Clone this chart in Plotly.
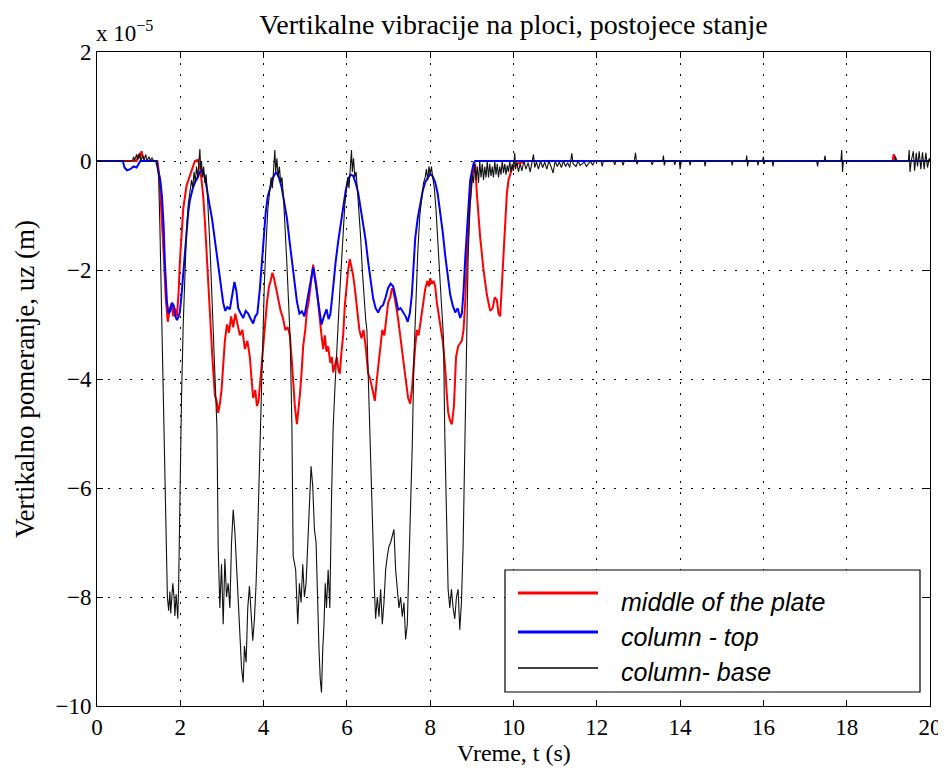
import plotly.graph_objects as go

# vertical displacement in units of 1e-5 m, time in s

t_red = [0, 0.95, 1.0, 1.03, 1.07, 1.1, 1.15, 1.45, 1.5, 1.55,
         1.6, 1.65, 1.7, 1.75, 1.79, 1.83, 1.87, 1.92, 1.96, 1.99,
         2.03, 2.07, 2.15, 2.22, 2.27, 2.35, 2.42, 2.47, 2.51, 2.55,
         2.59, 2.63, 2.67, 2.71, 2.77, 2.83, 2.87, 2.91, 2.95, 2.99,
         3.03, 3.07, 3.12, 3.17, 3.22, 3.27, 3.32, 3.37, 3.43, 3.49,
         3.55, 3.61, 3.67, 3.71, 3.75, 3.8, 3.84, 3.88, 3.91, 3.95,
         3.99, 4.03, 4.08, 4.13, 4.17, 4.21, 4.25, 4.3, 4.35, 4.41,
         4.47, 4.52, 4.58, 4.63, 4.68, 4.72, 4.75, 4.8, 4.84, 4.87,
         4.91, 4.95, 5.0, 5.04, 5.08, 5.12, 5.16, 5.19, 5.23, 5.27,
         5.31, 5.35, 5.39, 5.43, 5.47, 5.51, 5.55, 5.6, 5.64, 5.67,
         5.72, 5.76, 5.8, 5.83, 5.87, 5.91, 5.95, 5.99, 6.03, 6.07,
         6.11, 6.15, 6.2, 6.25, 6.3, 6.35, 6.4, 6.45, 6.51, 6.56,
         6.6, 6.64, 6.67, 6.72, 6.76, 6.8, 6.85, 6.9, 6.95, 6.99,
         7.04, 7.08, 7.11, 7.15, 7.19, 7.23, 7.29, 7.35, 7.41, 7.47,
         7.52, 7.56, 7.6, 7.64, 7.68, 7.72, 7.76, 7.8, 7.84, 7.88,
         7.93, 7.97, 8.0, 8.04, 8.08, 8.12, 8.16, 8.2, 8.25, 8.3,
         8.36, 8.4, 8.43, 8.47, 8.52, 8.57, 8.62, 8.67, 8.72, 8.76,
         8.8, 8.84, 8.88, 8.91, 8.95, 9.0, 9.04, 9.08, 9.12, 9.2,
         9.28, 9.36, 9.44, 9.5, 9.55, 9.6, 9.64, 9.68, 9.72, 9.76,
         9.8, 9.84, 9.88, 9.92, 9.96, 10.0, 10.1, 10.3, 19.1, 19.13,
         19.16, 19.2, 20]
uz_red = [0, 0, 0.12, 0.05, 0.18, 0.08, 0, 0, -0.3, -0.9,
          -1.7, -2.5, -2.95, -2.7, -2.62, -2.85, -2.7, -2.85, -2.4, -1.85,
          -1.3, -0.88, -0.45, -0.3, -0.2, 0, 0.02, -0.1, -0.35, -0.65,
          -1.1, -1.7, -2.3, -2.8, -3.6, -4.3, -4.4, -4.62, -4.45, -4.2,
          -3.7, -3.3, -3.0, -3.15, -2.85, -3.05, -2.8, -3.0, -3.2, -3.1,
          -3.45, -3.3, -3.6, -4.0, -4.35, -4.2, -4.5, -4.4, -4.1, -3.8,
          -3.4, -3.05, -2.6, -2.3, -2.2, -2.05, -2.15, -2.35, -2.5, -2.75,
          -2.9, -3.1, -3.05, -3.2, -3.7, -4.2, -4.5, -4.83, -4.55, -4.3,
          -3.9, -3.4, -3.1, -2.75, -2.6, -2.3, -2.0, -1.9, -2.1, -2.3,
          -2.6, -2.95, -3.2, -3.45, -3.2, -3.5, -3.4, -3.7, -3.6, -3.88,
          -3.7, -3.6, -3.85, -3.9, -3.5, -3.2, -2.65, -2.3, -2.0, -1.8,
          -1.95, -2.1, -2.4, -2.8, -3.1, -3.25, -3.1, -3.4, -3.9, -4.0,
          -4.15, -4.25, -4.4, -4.0, -3.7, -3.4, -3.1, -3.2, -2.9, -2.6,
          -2.5, -2.35, -2.35, -2.5, -2.7, -2.9, -3.3, -3.7, -4.0, -4.35,
          -4.45, -4.2, -3.7, -3.4, -3.1, -3.2, -3.0, -2.8, -2.6, -2.35,
          -2.2, -2.3, -2.15, -2.25, -2.2, -2.3, -2.6, -2.85, -3.05, -3.3,
          -3.8, -4.3, -4.6, -4.75, -4.83, -4.5, -3.6, -3.4, -3.35, -3.3,
          -3.1, -2.6, -1.8, -1.25, -0.8, -0.35, -0.1, -0.05, -0.6, -1.4,
          -2.0, -2.45, -2.75, -2.7, -2.5, -2.55, -2.8, -2.85, -2.3, -1.6,
          -1.0, -0.6, -0.35, -0.25, -0.15, -0.1, -0.05, 0, 0, 0.12,
          0.05, 0, 0]

t_blue = [0, 0.62, 0.66, 0.72, 0.8, 0.88, 0.95, 1.0, 1.04, 1.42,
          1.47, 1.52, 1.56, 1.6, 1.63, 1.68, 1.72, 1.76, 1.8, 1.84,
          1.88, 1.92, 1.96, 1.99, 2.03, 2.07, 2.11, 2.15, 2.19, 2.23,
          2.3, 2.36, 2.42, 2.47, 2.52, 2.57, 2.63, 2.7, 2.76, 2.83,
          2.9, 2.97, 3.03, 3.08, 3.13, 3.19, 3.24, 3.3, 3.35, 3.39,
          3.45, 3.51, 3.57, 3.63, 3.69, 3.75, 3.8, 3.85, 3.91, 3.95,
          3.99, 4.05, 4.1, 4.17, 4.23, 4.3, 4.36, 4.43, 4.5, 4.56,
          4.62, 4.68, 4.74, 4.8, 4.86, 4.92, 4.98, 5.04, 5.1, 5.15,
          5.19, 5.24, 5.31, 5.35, 5.39, 5.45, 5.51, 5.56, 5.6, 5.64,
          5.67, 5.73, 5.79, 5.85, 5.91, 5.97, 6.03, 6.09, 6.15, 6.21,
          6.27, 6.33, 6.39, 6.45, 6.51, 6.57, 6.63, 6.69, 6.75, 6.81,
          6.87, 6.93, 6.99, 7.05, 7.11, 7.17, 7.23, 7.29, 7.35, 7.41,
          7.46, 7.51, 7.56, 7.6, 7.64, 7.7, 7.76, 7.82, 7.88, 7.94,
          8.0, 8.06, 8.12, 8.18, 8.24, 8.3, 8.36, 8.42, 8.48, 8.54,
          8.6, 8.66, 8.72, 8.76, 8.8, 8.84, 8.88, 8.92, 8.96, 9.0,
          9.04, 9.08, 20]
uz_blue = [0, 0, -0.12, -0.17, -0.15, -0.1, -0.12, -0.05, 0, 0,
           -0.15, -0.35, -0.65, -1.2, -1.87, -2.6, -2.8, -2.75, -2.6, -2.65,
           -2.85, -2.92, -2.85, -2.77, -2.45, -2.06, -1.65, -1.27, -0.95, -0.72,
           -0.5, -0.38, -0.3, -0.2, -0.17, -0.25, -0.47, -0.8, -1.05, -1.45,
           -1.87, -2.25, -2.6, -2.75, -2.68, -2.72, -2.5, -2.22, -2.4, -2.7,
           -2.8, -2.88, -2.75, -2.8, -2.9, -2.98, -2.85, -2.8, -2.35, -1.9,
           -1.45, -0.95, -0.65, -0.45, -0.3, -0.2, -0.28, -0.47, -0.75, -1.05,
           -1.45, -1.85, -2.25, -2.58, -2.8, -2.76, -2.85, -2.58, -2.35, -2.1,
           -1.95, -2.2, -2.6, -2.85, -3.0, -2.85, -2.72, -2.9, -2.82, -2.55,
           -2.27, -1.85, -1.48, -1.15, -0.82, -0.55, -0.33, -0.25, -0.27, -0.4,
           -0.58, -0.85, -1.12, -1.45, -1.85, -2.2, -2.52, -2.7, -2.78, -2.68,
           -2.64, -2.5, -2.33, -2.25, -2.3, -2.5, -2.73, -2.7, -2.78, -2.85,
           -2.95, -2.8, -2.45, -1.95, -1.42, -1.05, -0.76, -0.55, -0.39, -0.3,
           -0.24, -0.28, -0.39, -0.6, -0.94, -1.3, -1.73, -2.1, -2.45, -2.65,
           -2.78, -2.7, -2.88, -2.8, -2.4, -1.8, -1.24, -0.7, -0.35, -0.2,
           -0.05, 0, 0]

t_black = [0, 0.85, 0.88, 0.9, 0.95, 0.98, 1.02, 1.05, 1.1, 1.13,
           1.17, 1.2, 1.25, 1.28, 1.32, 1.36, 1.44, 1.48, 1.51, 1.54,
           1.57, 1.6, 1.63, 1.66, 1.69, 1.72, 1.75, 1.77, 1.8, 1.82,
           1.85, 1.87, 1.9, 1.92, 1.94, 1.96, 1.99, 2.03, 2.07, 2.11,
           2.15, 2.19, 2.23, 2.27, 2.3, 2.33, 2.36, 2.39, 2.42, 2.45,
           2.47, 2.49, 2.51, 2.53, 2.56, 2.59, 2.62, 2.65, 2.68, 2.72,
           2.76, 2.8, 2.84, 2.88, 2.91, 2.95, 2.99, 3.03, 3.07, 3.11,
           3.15, 3.19, 3.23, 3.27, 3.31, 3.35, 3.39, 3.43, 3.47, 3.51,
           3.54, 3.58, 3.62, 3.66, 3.7, 3.74, 3.78, 3.82, 3.86, 3.9,
           3.94, 3.98, 4.02, 4.06, 4.1, 4.14, 4.18, 4.21, 4.24, 4.27,
           4.29, 4.32, 4.35, 4.38, 4.41, 4.44, 4.48, 4.52, 4.56, 4.6,
           4.64, 4.68, 4.71, 4.77, 4.82, 4.86, 4.9, 4.94, 4.98, 5.02,
           5.06, 5.1, 5.14, 5.18, 5.22, 5.26, 5.3, 5.33, 5.36, 5.39,
           5.42, 5.45, 5.48, 5.51, 5.55, 5.59, 5.63, 5.67, 5.71, 5.75,
           5.79, 5.83, 5.87, 5.91, 5.95, 5.99, 6.02, 6.05, 6.08, 6.11,
           6.13, 6.16, 6.19, 6.22, 6.25, 6.29, 6.33, 6.37, 6.41, 6.45,
           6.48, 6.52, 6.56, 6.62, 6.66, 6.69, 6.73, 6.77, 6.81, 6.85,
           6.89, 6.93, 6.97, 7.01, 7.05, 7.09, 7.13, 7.17, 7.21, 7.25,
           7.29, 7.33, 7.37, 7.41, 7.45, 7.49, 7.53, 7.57, 7.61, 7.65,
           7.7, 7.75, 7.8, 7.84, 7.88, 7.91, 7.94, 7.97, 8.0, 8.03,
           8.06, 8.1, 8.14, 8.18, 8.22, 8.26, 8.3, 8.32, 8.35, 8.38,
           8.43, 8.47, 8.51, 8.55, 8.59, 8.63, 8.67, 8.71, 8.75, 8.79,
           8.83, 8.87, 8.91, 8.95, 8.98, 9.01, 9.04, 9.07, 9.1, 9.13,
           9.16, 9.19, 9.22, 9.25, 9.28, 9.31, 9.34, 9.37, 9.4, 9.43,
           9.46, 9.49, 9.52, 9.55, 9.58, 9.61, 9.64, 9.67, 9.7, 9.73,
           9.76, 9.79, 9.82, 9.85, 9.88, 9.91, 9.94, 9.97, 10.0, 10.03,
           10.05, 10.08, 10.12, 10.16, 10.2, 10.25, 10.3, 10.35, 10.4, 10.45,
           10.48, 10.51, 10.55, 10.6, 10.65, 10.7, 10.75, 10.8, 10.85, 10.9,
           10.95, 11.0, 11.05, 11.1, 11.15, 11.2, 11.25, 11.3, 11.35, 11.4,
           11.43, 11.5, 11.55, 11.6, 11.7, 11.75,
           11.85, 11.9, 11.95, 12.1, 12.13, 12.16, 12.4, 12.43, 12.46, 12.6,
           12.63, 12.66, 12.9, 12.93, 12.96, 13.0, 13.3, 13.33, 13.36, 13.58,
           13.6, 13.62, 13.65, 13.85, 13.87, 13.9, 13.98, 14.0, 14.03, 14.22,
           14.24, 14.26, 14.58, 14.6, 14.62, 15.23, 15.25, 15.27, 15.58, 15.6,
           15.62, 15.64, 15.85, 15.87, 15.89, 15.98, 16.0, 16.02, 16.04, 16.21,
           16.23, 16.25, 17.28, 17.3, 17.32, 17.46, 17.48, 17.5, 17.86, 17.88,
           17.9, 17.92, 19.15, 19.17, 19.19, 19.48, 19.5, 19.52, 19.55, 19.6,
           19.63, 19.67, 19.7, 19.74, 19.78, 19.82, 19.86, 19.9, 19.94, 19.98,
           20]
uz_black = [0, 0, 0.08, 0, 0.12, 0.02, 0.15, 0, 0.1, 0.02,
            0.12, 0, 0.08, 0, 0.06, 0, 0, -0.3, -1.2, -2.3,
            -3.5, -4.8, -6.2, -7.3, -8.0, -8.25, -7.9, -8.3, -7.85, -7.75,
            -8.0, -8.35, -7.95, -8.15, -8.4, -7.8, -6.2, -4.3, -3.0, -1.9,
            -1.25, -0.8, -0.6, -0.35, -0.5, -0.2, -0.4, -0.1, -0.3, 0.05,
            0.22, -0.15, 0.0, -0.3, -0.1, -0.4, -0.25, -0.6, -1.0, -1.7,
            -2.5, -3.3, -4.1, -4.9, -7.1, -8.2, -7.4, -8.5, -7.3, -8.0,
            -7.75, -8.2, -7.0, -6.4, -6.8, -7.4, -7.9, -8.5, -9.3, -9.57,
            -8.9, -9.2, -8.2, -7.8, -8.3, -8.8, -8.4, -7.75, -6.76, -5.55,
            -4.33, -3.1, -2.2, -1.5, -0.9, -0.6, -0.3, -0.5, -0.1, 0.2,
            -0.2, 0.05, -0.3, -0.1, -0.4, -0.3, -0.7, -1.2, -1.9, -2.6,
            -3.3, -4.9, -7.25, -7.5, -8.5, -7.75, -8.1, -7.4, -8.0, -7.75,
            -7.0, -6.5, -5.6, -5.97, -6.76, -7.0, -8.5, -8.96, -9.5, -9.75,
            -8.96, -8.5, -7.75, -8.2, -7.5, -8.2, -6.2, -4.9, -4.2, -3.7,
            -3.0, -2.4, -1.8, -1.2, -0.8, -0.5, -0.3, -0.5, -0.1, 0.2,
            -0.2, 0.05, -0.3, -0.2, -0.5, -0.9, -1.4, -2.0, -2.5, -2.9,
            -3.1, -4.3, -5.4, -6.76, -7.86, -8.4, -8.0, -8.36, -7.86, -8.5,
            -8.1, -7.5, -7.25, -7.07, -7.0, -6.88, -6.76, -7.5, -7.86, -8.2,
            -8.0, -8.36, -8.1, -8.78, -8.5, -7.4, -6.45, -5.2, -3.6, -2.6,
            -1.7, -1.0, -0.6, -0.4, -0.3, -0.15, -0.35, -0.1, -0.25, -0.1,
            -0.3, -0.5, -0.9, -1.5, -2.0, -2.5, -3.0, -3.3, -5.0, -6.2,
            -7.86, -8.2, -7.86, -8.2, -8.4, -8.0, -7.86, -8.6, -8.1, -7.07,
            -5.2, -3.1, -1.8, -0.9, -0.5, -0.25, -0.4, -0.05, -0.35, -0.1,
            -0.4, 0, -0.3, -0.05, -0.35, -0.1, -0.3, 0, -0.3, -0.05,
            -0.28, -0.1, -0.3, 0, -0.25, -0.05, -0.3, -0.1, -0.25, 0,
            -0.22, -0.05, -0.25, -0.08, -0.2, 0, -0.2, -0.05, -0.18, 0.15,
            -0.15, -0.02, -0.2, -0.05, -0.18, 0, -0.15, -0.03, -0.2, 0,
            0.12, -0.12, -0.02, -0.15, 0, -0.12, -0.02, -0.15, 0, -0.1,
            -0.22, 0, -0.1, -0.02, -0.12, 0, -0.1, -0.03, -0.12, 0.14,
            -0.05, -0.1, 0, -0.08, -0.02, -0.1,
            0, -0.08, 0, 0, -0.1, 0, 0, -0.07, 0, 0,
            -0.08, 0, 0, 0.15, -0.06, 0, 0, -0.07, 0, 0,
            0.1, -0.08, 0, 0, -0.07, 0, 0, -0.15, 0, 0,
            -0.08, 0, 0, -0.1, 0, 0, -0.08, 0, 0, 0.1,
            -0.1, 0, 0, -0.08, 0, 0, 0.08, -0.05, 0, 0,
            -0.1, 0, 0, -0.1, 0, 0, 0.1, 0, 0, 0.2,
            -0.2, 0, 0, 0.08, 0, 0, 0.2, -0.2, 0, 0.18,
            -0.18, 0.15, -0.1, 0.18, -0.15, 0.16, -0.15, 0.15, -0.12, 0.05,
            0]

legend_names = ['middle of the plate', 'column - top', 'column- base']

assert len(t_red) == len(uz_red)
assert len(t_blue) == len(uz_blue)
assert len(t_black) == len(uz_black)

# the page puts the figure 8px in from the top-left corner
OFF = 8
W, H = 946 - OFF, 773 - OFF
L, R, T, B = 97 - OFF, 16, 52 - OFF, 67
pw, ph = W - L - R, H - T - B


def px_x(px):
    # reference screen pixel -> paper x
    return (px - OFF - L) / pw


def px_y(py):
    # reference screen pixel -> paper y
    return (H - B - (py - OFF)) / ph


fig = go.Figure()
fig.add_trace(go.Scatter(x=t_red, y=uz_red, mode='lines', name=legend_names[0],
                         line=dict(color='#ff0000', width=2)))
fig.add_trace(go.Scatter(x=t_blue, y=uz_blue, mode='lines', name=legend_names[1],
                         line=dict(color='#0000ff', width=2)))
fig.add_trace(go.Scatter(x=t_black, y=uz_black, mode='lines', name=legend_names[2],
                         line=dict(color='#111111', width=1.1)))

axis_style = dict(showline=True, linecolor='black', linewidth=1, mirror='ticks',
                  ticks='inside', ticklen=6, tickcolor='black',
                  showgrid=True, gridcolor='black', gridwidth=1, griddash='2px,9px',
                  zeroline=False, automargin=False,
                  tickfont=dict(size=23, color='black'))

fig.update_xaxes(range=[0, 20], dtick=2, tick0=0, **axis_style)
fig.update_yaxes(range=[-10, 2], dtick=2, tick0=0,
                 title=dict(text='Vertikalno pomeranje, uz (m)', font=dict(size=27, color='black'), standoff=12),
                 **axis_style)

# legend box drawn by hand (matlab style, long sample lines)
shapes = [dict(type='rect', xref='paper', yref='paper',
               x0=px_x(505), x1=px_x(920), y0=px_y(692), y1=px_y(570),
               line=dict(color='black', width=1.2), fillcolor='white', layer='above')]
annotations = []
leg_colors = ['#ff0000', '#0000ff', '#000000']
leg_widths = [3, 3, 1.5]
leg_line_y = [593, 632, 668]
leg_text_y = [602, 637, 672]
for i in range(3):
    shapes.append(dict(type='line', xref='paper', yref='paper',
                       x0=px_x(518), x1=px_x(598), y0=px_y(leg_line_y[i]), y1=px_y(leg_line_y[i]),
                       line=dict(color=leg_colors[i], width=leg_widths[i]), layer='above'))
    annotations.append(dict(xref='paper', yref='paper', x=px_x(619), y=px_y(leg_text_y[i]),
                            xanchor='left', yanchor='middle', showarrow=False,
                            text='<i>' + legend_names[i] + '</i>',
                            font=dict(family='Liberation Sans', size=25, color='black')))

annotations.append(dict(xref='paper', yref='paper', x=px_x(94), y=px_y(31),
                        xanchor='left', yanchor='middle', showarrow=False,
                        text='x 10<sup>\u22125</sup>',
                        font=dict(size=23, color='black')))
# x axis title
annotations.append(dict(xref='paper', yref='paper', x=0.5, y=px_y(753),
                        xanchor='center', yanchor='middle', showarrow=False,
                        text='Vreme, t (s)', font=dict(size=24, color='black')))

fig.update_layout(
    width=W, height=H,
    margin=dict(l=L, r=R, t=T, b=B, autoexpand=False),
    paper_bgcolor='white', plot_bgcolor='white',
    font=dict(family='Liberation Serif', color='black'),
    showlegend=False,
    title=dict(text='Vertikalne vibracije na ploci, postojece stanje',
               x=0.5, xanchor='center', xref='paper',
               y=1 - 16 / H, yanchor='middle', yref='container',
               font=dict(size=28, color='black')),
    shapes=shapes,
    annotations=annotations,
)

fig.write_html('out.html')
